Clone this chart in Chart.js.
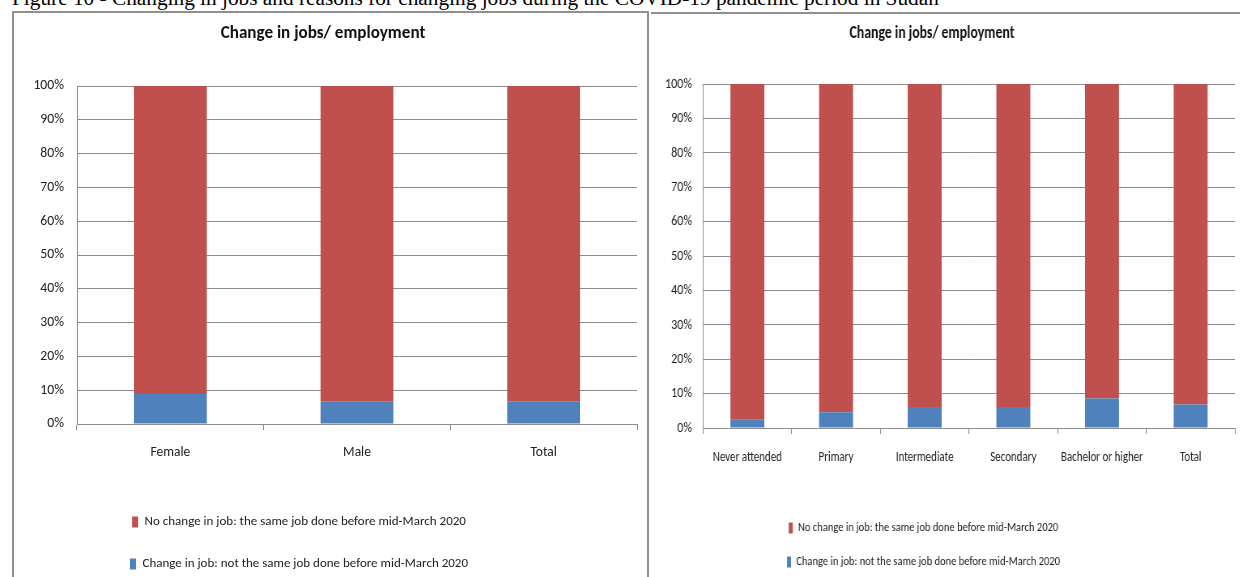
<!DOCTYPE html>
<html>
<head>
<meta charset="utf-8">
<script src="https://cdn.jsdelivr.net/npm/chart.js@4.4.1/dist/chart.umd.min.js"></script>
<style>
  html, body { margin: 0; padding: 0; background: #fff; width: 1240px; height: 577px; overflow: hidden; }
  .caption { position: absolute; left: 12px; top: -12px; font: 21.3px/21.3px "Liberation Serif", "Times New Roman", serif; color: #000; white-space: nowrap; }
  .boxL { position: absolute; left: 12px; top: 11px; width: 633px; height: 600px; border: 2px solid #8f8f8f; border-bottom: none; }
  .boxR { position: absolute; left: 651px; top: 12px; width: 589px; height: 600px; border-top: 2px solid #8f8f8f; }
  canvas { position: absolute; }
  #cL { left: 9px; top: 13px; }
  /* the education panel is drawn wide and squeezed horizontally */
  #cR { left: 629px; top: 14px; transform: scaleX(0.81); transform-origin: 0 0; }
</style>
</head>
<body>
<div class="caption">Figure 10 - Changing in jobs and reasons for changing jobs during the COVID-19 pandemic period in Sudan</div>
<div class="boxL"></div>
<div class="boxR"></div>
<canvas id="cL" width="634" height="590" style="width:634px;height:590px"></canvas>
<canvas id="cR" width="755" height="590" style="width:755px;height:590px"></canvas>
<script>
// Share of workers (%) by sex
const sexCategories = ['Female', 'Male', 'Total'];
const sexChanged = [8.9, 6.6, 6.6];
const sexSameJob = [91.1, 93.4, 93.4];

// Share of workers (%) by education level
const eduCategories = ['Never attended', 'Primary', 'Intermediate', 'Secondary', 'Bachelor or higher', 'Total'];
const eduChanged = [2.4, 4.6, 6.1, 6.1, 8.6, 6.8];
const eduSameJob = [97.6, 95.4, 93.9, 93.9, 91.4, 93.2];

const percentTicks = [0, 10, 20, 30, 40, 50, 60, 70, 80, 90, 100];

const titleText = 'Change in jobs/ employment';
const labelSame = 'No change in job: the same job done before mid-March 2020';
const labelChanged = 'Change in job: not the same job done before mid-March 2020';

const RED = '#C0504D';
const BLUE = '#4F81BD';
const GRID = '#8c8c8c';
const FONT = 'Carlito, "Liberation Sans", sans-serif';

// stacks the legend entries one per row and nudges the block sideways
const legendBlock = {
  id: 'legendBlock',
  beforeLayout(chart, args, opts) {
    const lg = chart.legend;
    if (!lg || lg._rowCap) return;
    const orig = lg.update;
    lg.update = function (mw, mh, m) { return orig.call(this, Math.min(mw, opts.rowWidth), mh, m); };
    lg._rowCap = true;
  },
  afterLayout(chart, args, opts) {
    const lg = chart.legend;
    if (!lg || !opts.dx) return;
    lg.left += opts.dx;
    lg.right += opts.dx;
  }
};

function makeChart(id, cfg) {
  return new Chart(document.getElementById(id), {
    type: 'bar',
    data: {
      labels: cfg.categories,
      datasets: [
        { label: labelChanged, data: cfg.changed, backgroundColor: BLUE, borderWidth: 0,
          barPercentage: cfg.barPct, categoryPercentage: 1 },
        { label: labelSame, data: cfg.same, backgroundColor: RED, borderWidth: 0,
          barPercentage: cfg.barPct, categoryPercentage: 1 }
      ]
    },
    options: {
      responsive: false,
      animation: false,
      devicePixelRatio: 1,
      layout: { padding: { left: 0, right: cfg.padRight, top: 0, bottom: cfg.padBottom } },
      plugins: {
        title: {
          display: true, text: titleText, color: '#111',
          font: { family: FONT, size: cfg.titleSize, weight: 'bold' },
          padding: { top: cfg.titlePadTop, bottom: cfg.titlePadBottom }
        },
        legend: {
          position: 'bottom', reverse: true,
          labels: {
            color: '#222', font: { family: FONT, size: cfg.legendSize },
            boxWidth: cfg.boxW, boxHeight: cfg.boxH, padding: cfg.legendPad
          }
        },
        tooltip: { enabled: false },
        legendBlock: { dx: cfg.legendDx, rowWidth: cfg.legendRowWidth }
      },
      scales: {
        x: {
          stacked: true,
          grid: { display: true, drawOnChartArea: false, drawTicks: true, tickLength: 6, color: GRID, offset: true },
          border: { display: true, color: GRID },
          ticks: { color: '#222', font: { family: FONT, size: cfg.xSize }, padding: cfg.xPad, maxRotation: 0, autoSkip: false },
          afterFit(s) { s.height = cfg.xHeight; }
        },
        y: {
          stacked: true, min: 0, max: 100,
          afterBuildTicks(s) { s.ticks = percentTicks.map(v => ({ value: v })); },
          grid: { drawTicks: false, color: GRID },
          border: { display: true, color: GRID },
          ticks: { color: '#222', font: { family: FONT, size: cfg.ySize }, padding: cfg.yPad,
                   callback: v => v + '%' },
          afterFit(s) { s.width = cfg.yWidth; }
        }
      }
    },
    plugins: [legendBlock]
  });
}

makeChart('cL', {
  categories: sexCategories, changed: sexChanged, same: sexSameJob, barPct: 0.39,
  padRight: 6, padBottom: 22.5,
  titleSize: 17.1, titlePadTop: 10.7, titlePadBottom: 41.8,
  legendSize: 13, boxW: 6, boxH: 11, legendPad: 29, legendDx: -24, legendRowWidth: 450,
  xSize: 13.5, xPad: 14.9, xHeight: 62.5,
  ySize: 13.7, yPad: 13, yWidth: 68
});

makeChart('cR', {
  categories: eduCategories, changed: eduChanged, same: eduSameJob, barPct: 0.383,
  padRight: 6.9, padBottom: 25.5,
  titleSize: 17, titlePadTop: 9.8, titlePadBottom: 39.8,
  legendSize: 13, boxW: 5, boxH: 11, legendPad: 21, legendDx: -10.5, legendRowWidth: 500,
  xSize: 13.5, xPad: 15.9, xHeight: 72.5,
  ySize: 14.9, yPad: 13.6, yWidth: 91.4
});
</script>
</body>
</html>
